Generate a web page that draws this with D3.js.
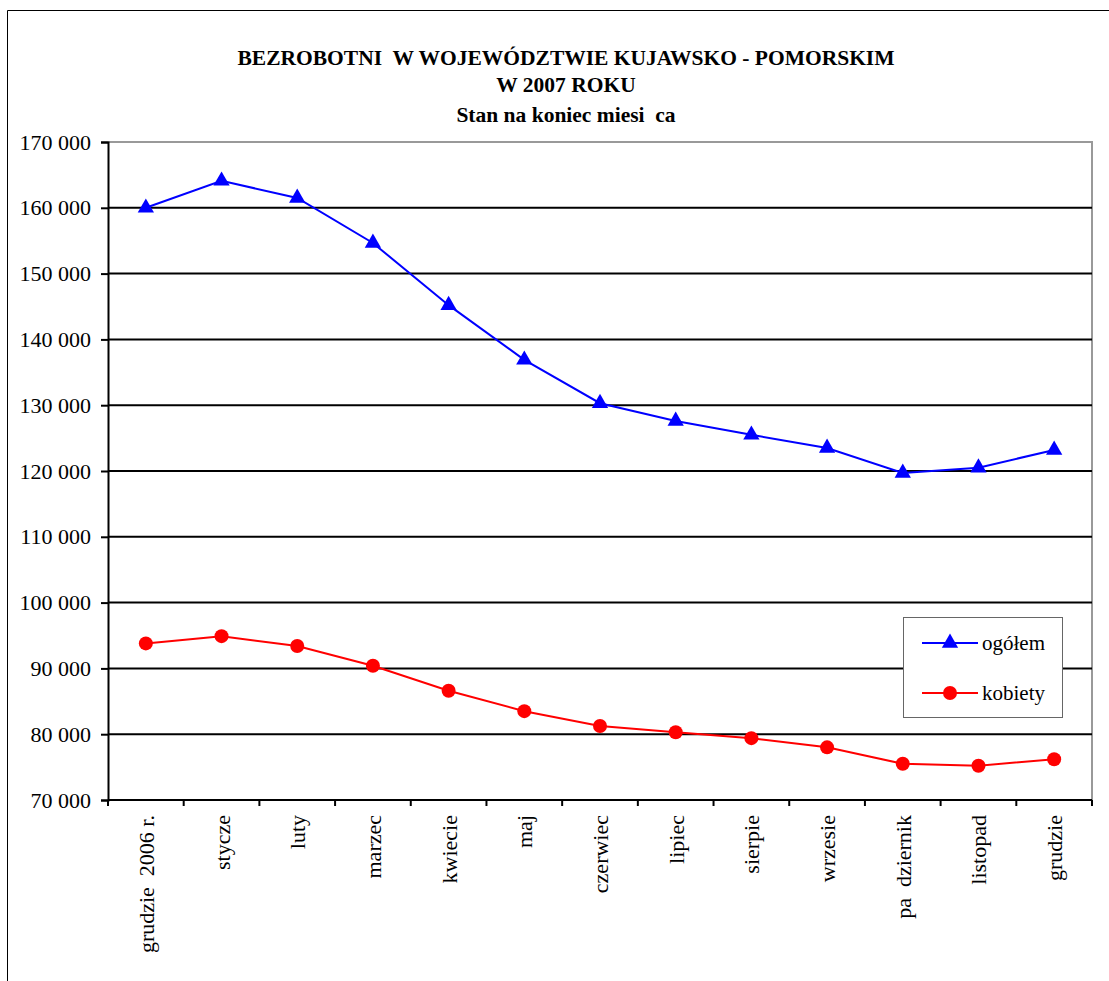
<!DOCTYPE html>
<html><head><meta charset="utf-8">
<script src="https://cdn.jsdelivr.net/npm/d3@7/dist/d3.min.js"></script>
<style>body{margin:0;background:#fff}svg{display:block}text{font-family:"Liberation Serif","Times New Roman",serif}</style>
</head><body><svg id="c" width="1109" height="981"></svg>
<script>
const categories = ["grudzie  2006 r.","stycze","luty","marzec","kwiecie","maj","czerwiec","lipiec","sierpie","wrzesie","pa  dziernik","listopad","grudzie"];
const ogolem = [160000,164100,161500,154650,145200,136900,130300,127600,125500,123500,119700,120500,123200];
const kobiety = [93800,94900,93400,90400,86600,83500,81250,80300,79400,78000,75500,75200,76200];
const yTicks = [70000,80000,90000,100000,110000,120000,130000,140000,150000,160000,170000];
const titleLines = ["BEZROBOTNI  W WOJEWÓDZTWIE KUJAWSKO - POMORSKIM","W 2007 ROKU","Stan na koniec miesi  ca"];
const seriesNames = ["ogółem","kobiety"];

const svg = d3.select("#c");
const L=108,R=1092,T=142,B=800;
svg.append("path").attr("d","M7.5,981 V10.5 H1109").attr("fill","none").attr("stroke","#000").attr("stroke-width",1);

const x = d3.scaleBand().domain(categories).range([L,R]);
const y = d3.scaleLinear().domain([70000,170000]).range([B,T]);

svg.append("path").attr("d",`M${L},${T} H${R} V${B}`).attr("fill","none").attr("stroke","#999").attr("stroke-width",2);
svg.append("g").selectAll("line").data(yTicks.filter(v=>v>70000&&v<170000)).join("line")
  .attr("x1",L).attr("x2",R).attr("y1",d=>y(d)).attr("y2",d=>y(d)).attr("stroke","#000").attr("stroke-width",2);

const fmt = v => d3.format(",")(v).replace(/,/g," ");
const ya = svg.append("g").attr("transform",`translate(${L},0)`)
  .call(d3.axisLeft(y).tickValues(yTicks).tickFormat(fmt).tickSize(7).tickPadding(10));
ya.select(".domain").attr("stroke","#000").attr("stroke-width",2);
ya.selectAll(".tick line").attr("stroke","#000").attr("stroke-width",2);
ya.selectAll("text").attr("font-size",22).attr("fill","#000").attr("font-family","Liberation Serif");

const xa = svg.append("g").attr("transform",`translate(0,${B})`)
  .call(d3.axisBottom(x).tickSize(0).tickFormat(""));
xa.select(".domain").attr("stroke","#000").attr("stroke-width",2).attr("d",`M${L},0H${R}`);
svg.append("g").selectAll("line").data(d3.range(categories.length+1)).join("line")
  .attr("x1",i=>L+i*x.step()).attr("x2",i=>L+i*x.step()).attr("y1",B).attr("y2",B+6).attr("stroke","#000").attr("stroke-width",2);
svg.append("g").selectAll("text").data(categories).join("text")
  .attr("transform",d=>`translate(${x(d)+x.bandwidth()/2+8},${B+15}) rotate(-90)`)
  .attr("text-anchor","end").attr("font-size",22).attr("fill","#000")
  .style("white-space","pre").text(d=>d);

const cx = i => x(categories[i])+x.bandwidth()/2;
const line = d3.line().x((d,i)=>cx(i)).y(d=>y(d));
svg.append("path").datum(ogolem).attr("d",line).attr("fill","none").attr("stroke","#0000ff").attr("stroke-width",2);
svg.append("path").datum(kobiety).attr("d",line).attr("fill","none").attr("stroke","#ff0000").attr("stroke-width",2);
const tri = d3.symbol().type(d3.symbolTriangle).size(115);
svg.append("g").selectAll("path").data(ogolem).join("path")
  .attr("d",tri).attr("transform",(d,i)=>`translate(${cx(i)},${y(d)})`).attr("fill","#0000ff");
svg.append("g").selectAll("circle").data(kobiety).join("circle")
  .attr("cx",(d,i)=>cx(i)).attr("cy",d=>y(d)).attr("r",7).attr("fill","#ff0000");

svg.append("g").selectAll("text").data(titleLines).join("text")
  .attr("x",566).attr("y",(d,i)=>[65,92,122][i]).attr("text-anchor","middle")
  .attr("font-size",21.5).attr("font-weight","bold").attr("fill","#000")
  .style("white-space","pre").text(d=>d);

const lg = svg.append("g");
lg.append("rect").attr("x",903.5).attr("y",617.5).attr("width",159).attr("height",100).attr("fill","#fff").attr("stroke","#666").attr("stroke-width",1);
const colors=["#0000ff","#ff0000"];
seriesNames.forEach((n,i)=>{
  const yy=[643,693][i];
  lg.append("line").attr("x1",922).attr("x2",978).attr("y1",yy).attr("y2",yy).attr("stroke",colors[i]).attr("stroke-width",2);
  if(i===0) lg.append("path").attr("d",tri).attr("transform",`translate(950,${yy})`).attr("fill",colors[i]);
  else lg.append("circle").attr("cx",950).attr("cy",yy).attr("r",7).attr("fill",colors[i]);
  lg.append("text").attr("x",982).attr("y",yy+7).attr("font-size",21).attr("fill","#000").text(n);
});
</script></body></html>
